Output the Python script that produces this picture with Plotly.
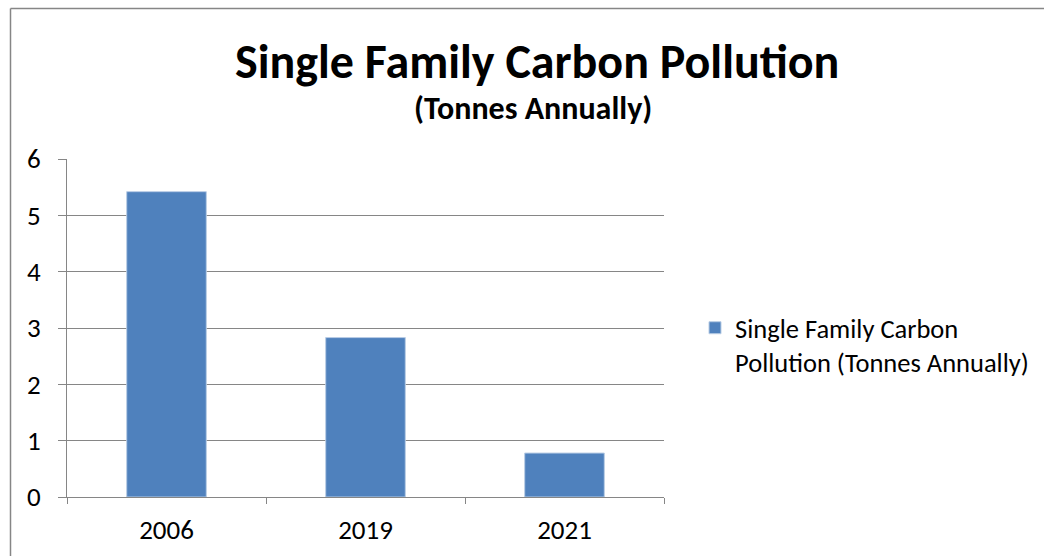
import plotly.graph_objects as go

years = ["2006", "2019", "2021"]
values = [5.42, 2.83, 0.78]
series_name = "Single Family Carbon<br>Pollution (Tonnes Annually)"
title_main = "Single Family Carbon Pollution"
title_sub = "(Tonnes Annually)"

FONT = "Carlito, Lato, 'Open Sans', sans-serif"
GRID = "#868686"

W, H = 1044, 556
L, T = 67, 159
RIGHT, BOTTOM = 664, 497
R, B = W - RIGHT, H - BOTTOM
pw, ph = RIGHT - L, BOTTOM - T

def px_x(x):  # page x -> paper
    return (x - L) / pw

def px_y(y):  # page y -> paper
    return (BOTTOM - y) / ph

fig = go.Figure()
fig.add_trace(go.Bar(
    x=years, y=values, name=series_name,
    marker=dict(color="#4F81BD", line=dict(color="#B9CDE5", width=1)),
    showlegend=True,
))

fig.update_layout(
    width=W, height=H,
    margin=dict(l=L, r=R, t=T, b=B, autoexpand=False),
    paper_bgcolor="white", plot_bgcolor="white",
    font=dict(family=FONT, size=27, color="#000000"),
    bargap=0.6,
    showlegend=True,
    legend=dict(
        x=px_x(695), y=px_y(304), xanchor="left", yanchor="top",
        font=dict(family=FONT, size=26.5, color="#000000"),
        valign="top", itemwidth=30, tracegroupgap=0,
        bgcolor="rgba(0,0,0,0)",
    ),
    xaxis=dict(
        type="category", showgrid=False, showline=True, linecolor=GRID, linewidth=1,
        ticks="outside", tickson="boundaries", ticklen=6, tickcolor=GRID,
        ticklabelstandoff=9, tickfont=dict(size=27),
    ),
    yaxis=dict(
        range=[0, 6], dtick=1, showgrid=True, gridcolor=GRID, gridwidth=1,
        showline=True, linecolor=GRID, linewidth=1,
        ticks="outside", ticklen=8, tickcolor=GRID,
        ticklabelstandoff=12, tickfont=dict(size=27), zeroline=False,
    ),
    shapes=[
        dict(type="line", xref="paper", yref="paper",
             x0=px_x(10.5), x1=px_x(1100), y0=px_y(8.5), y1=px_y(8.5),
             line=dict(color=GRID, width=1.5), layer="below"),
        dict(type="line", xref="paper", yref="paper",
             x0=px_x(10.5), x1=px_x(10.5), y0=px_y(8.5), y1=px_y(620),
             line=dict(color=GRID, width=1.5), layer="below"),
    ],
    annotations=[
        dict(text="<b>" + title_main + "</b>", xref="paper", yref="paper",
             x=px_x(537), y=px_y(61), xanchor="center", yanchor="middle",
             showarrow=False, font=dict(family=FONT, size=48, color="#000000")),
        dict(text="<b>" + title_sub + "</b>", xref="paper", yref="paper",
             x=px_x(533), y=px_y(108), xanchor="center", yanchor="middle",
             showarrow=False, font=dict(family=FONT, size=32, color="#000000")),
    ],
)

fig.write_html(
    "out.html",
    config={"displayModeBar": False},
    post_script="document.body.style.margin='0';document.body.style.overflow='hidden';",
)
